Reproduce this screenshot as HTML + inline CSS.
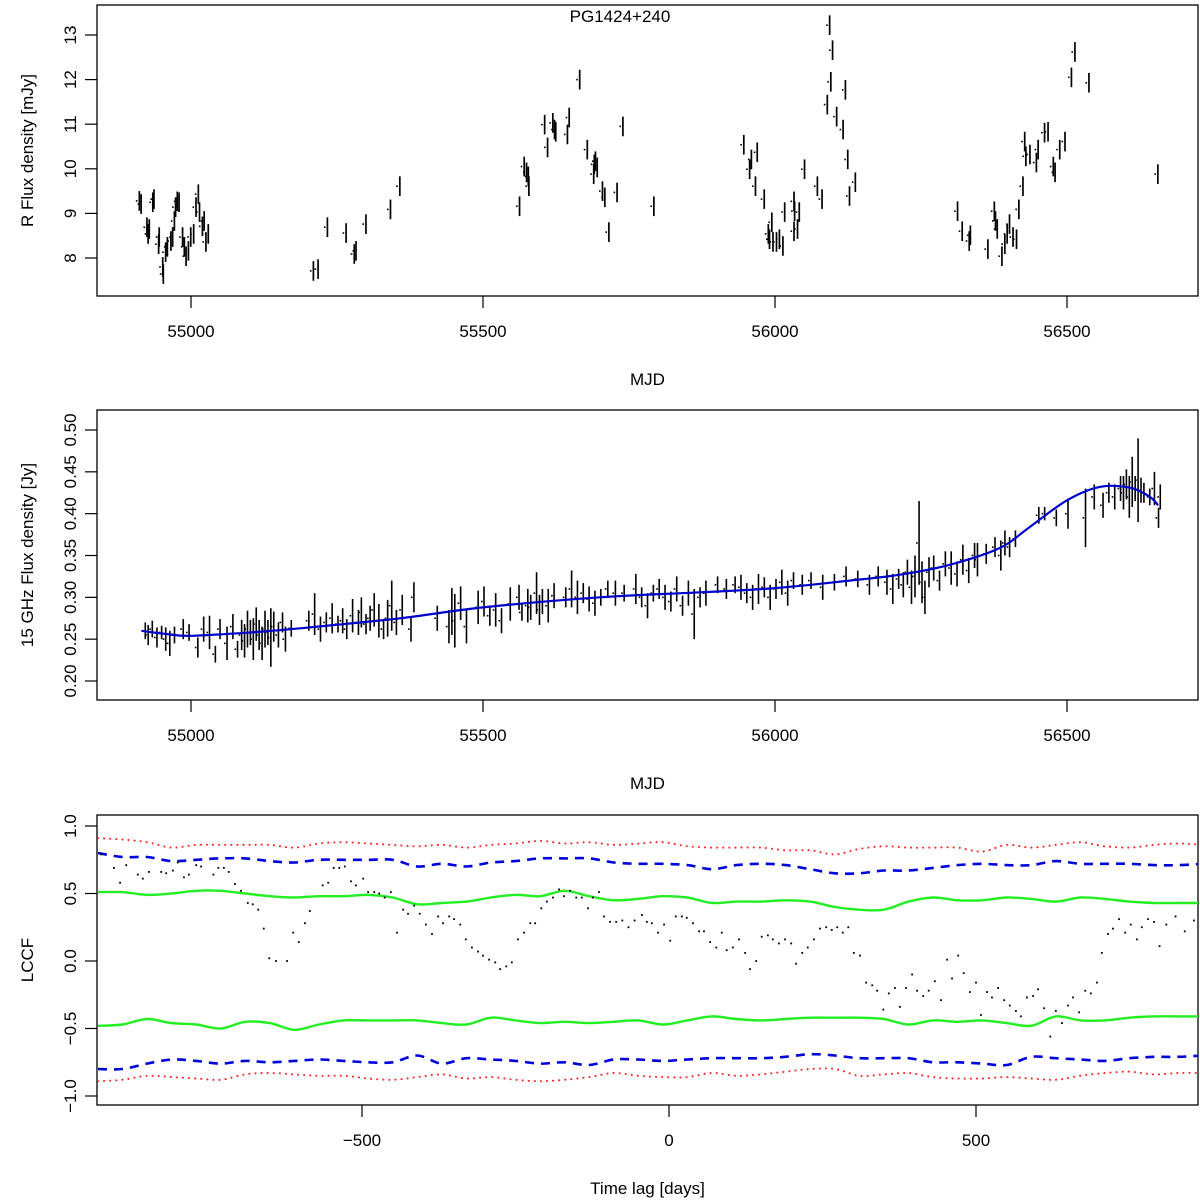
<!DOCTYPE html>
<html><head><meta charset="utf-8"><style>
html,body{margin:0;padding:0;background:#fff}
svg{display:block}
text{font-family:"Liberation Sans",Arial,sans-serif;font-size:17px;fill:#000}
</style></head><body>
<svg id="fig" width="1200" height="1200" viewBox="0 0 1200 1200" xmlns="http://www.w3.org/2000/svg">
<rect x="0" y="0" width="1200" height="1200" fill="#fff"/>
<g id="p1"></g>
<g id="p2"></g>
<g id="p3"></g>
</svg>
<script>
// ---------- Panel 1 data: R-band optical ----------
var optMjd = [54909,54912,54922,54924,54926,54932,54934,54943,54942,54949,54950,54954,54957,54963,54966,54969,54971,54974,54977,54983,54986,54989,54993,54997,55002,55006,55010,55012,55017,55020,55023,55027,55207,55215,55231,55263,55277,55280,55297,55339,55355,
55560,55568,55572,55575,55576,55603,55608,55617,55620,55622,55642,55645,55663,55676,55688,55690,55693,55687,55702,55706,55713,55727,55737,55790,
55944,55957,55954,55967,55964,55979,55992,55986,55988,55994,56000,56005,56011,56014,56030,56031,56039,56030,56036,56048,56070,56078,56087,56091,56096,56093,56103,56114,56118,56122,56135,56125,
56310,56318,56332,56330,56362,56373,56375,56378,56386,56391,56395,56399,56405,56411,56415,56422,56425,56427,56434,56445,56448,56459,56465,56474,56477,56485,56494,56505,56511,56535,56653];
var optFlux = [9.28,9.21,8.69,8.54,8.65,9.25,9.32,8.47,8.31,7.80,7.64,8.13,8.25,8.38,8.47,8.83,9.14,9.27,9.25,8.47,8.25,8.04,8.16,8.47,8.54,9.14,9.43,9.03,8.71,8.83,8.36,8.54,7.71,7.75,8.69,8.56,8.09,8.16,8.76,9.09,9.61,
9.16,10.05,9.92,9.83,9.61,10.99,10.48,11.03,10.88,10.83,10.77,11.15,12.00,10.43,10.10,10.17,10.03,9.88,9.50,9.36,8.58,9.47,10.95,9.16,
10.54,10.21,9.99,10.37,9.61,9.32,8.80,8.54,8.42,8.36,8.36,8.42,8.27,9.03,9.27,9.05,9.03,8.60,8.65,9.99,9.61,9.32,11.44,13.22,12.66,11.95,11.17,10.88,11.77,10.21,9.70,9.39,
9.05,8.60,8.51,8.38,8.20,9.05,8.83,8.65,8.04,8.31,8.54,8.76,8.47,8.42,9.09,9.61,10.61,10.28,10.32,10.14,10.43,10.81,10.83,10.05,9.92,10.43,10.61,12.05,12.62,11.93,9.88];
var optErr = 0.22;
var p1XTicks = [55000,55500,56000,56500];
var p1YTicks = [8,9,10,11,12,13];

// ---------- Panel 2 data: 15 GHz radio ----------
var radMjd = [54920,54925,54932,54940,54948,54955,54962,54970,54985,54995,55010,55020,55030,55040,55048,55060,55070,55078,55085,55090,55095,55100,55105,55110,55115,55120,55125,55130,55135,55140,55148,55155,55160,55170,55200,55210,55220,55230,55240,55250,55258,55265,55275,55285,55290,55298,55305,55312,55320,55328,55335,55342,55350,55360,55375,55380,55420,55440,55445,55450,55460,55470,55490,55500,55510,55520,55530,55545,55560,55565,55575,55580,55590,55595,55600,55610,55620,55640,55650,55660,55670,55680,55690,55700,55712,55725,55740,55760,55770,55780,55790,55800,55810,55820,55830,55840,55850,55860,55870,55880,55900,55915,55930,55940,55950,55960,55970,55980,55990,56000,56010,56020,56030,56045,56060,56080,56100,56120,56140,56160,56175,56190,56200,56210,56218,56225,56232,56238,56245,56250,56255,56262,56270,56280,56290,56300,56310,56320,56330,56340,56345,56360,56375,56385,56392,56400,56410,56450,56460,56480,56500,56530,56545,56560,56570,56580,56590,56595,56600,56605,56610,56615,56620,56625,56630,56640,56648,56655,56658];
var radFlux = [0.260,0.255,0.262,0.252,0.258,0.250,0.245,0.255,0.262,0.258,0.240,0.262,0.258,0.232,0.262,0.245,0.265,0.238,0.255,0.248,0.262,0.258,0.250,0.268,0.255,0.245,0.262,0.258,0.252,0.265,0.255,0.270,0.250,0.263,0.272,0.280,0.262,0.270,0.275,0.268,0.272,0.262,0.278,0.270,0.282,0.268,0.275,0.285,0.272,0.262,0.275,0.290,0.270,0.285,0.262,0.300,0.275,0.265,0.283,0.272,0.293,0.265,0.288,0.295,0.278,0.285,0.272,0.292,0.300,0.282,0.290,0.288,0.305,0.285,0.295,0.290,0.302,0.300,0.310,0.300,0.305,0.298,0.293,0.300,0.310,0.305,0.305,0.310,0.300,0.290,0.305,0.310,0.300,0.295,0.310,0.290,0.305,0.280,0.300,0.305,0.315,0.310,0.315,0.312,0.305,0.300,0.310,0.312,0.300,0.310,0.318,0.305,0.320,0.315,0.320,0.312,0.318,0.325,0.322,0.315,0.325,0.318,0.310,0.322,0.315,0.330,0.312,0.325,0.365,0.318,0.300,0.330,0.335,0.320,0.340,0.335,0.328,0.345,0.332,0.350,0.345,0.352,0.360,0.350,0.365,0.360,0.370,0.398,0.400,0.395,0.400,0.395,0.420,0.410,0.425,0.420,0.430,0.425,0.435,0.420,0.438,0.430,0.440,0.428,0.425,0.420,0.430,0.395,0.420];
var radErr = [0.010,0.012,0.010,0.012,0.008,0.014,0.015,0.010,0.012,0.010,0.012,0.015,0.020,0.010,0.012,0.020,0.015,0.010,0.018,0.020,0.022,0.015,0.025,0.020,0.018,0.020,0.022,0.015,0.035,0.018,0.015,0.012,0.015,0.010,0.012,0.025,0.015,0.012,0.018,0.010,0.015,0.012,0.020,0.015,0.018,0.012,0.015,0.020,0.020,0.012,0.022,0.030,0.015,0.018,0.015,0.018,0.015,0.020,0.028,0.032,0.020,0.020,0.020,0.018,0.012,0.020,0.015,0.020,0.015,0.010,0.020,0.015,0.025,0.018,0.015,0.020,0.015,0.012,0.022,0.020,0.012,0.015,0.015,0.010,0.010,0.015,0.010,0.018,0.012,0.015,0.010,0.012,0.015,0.012,0.015,0.012,0.015,0.030,0.012,0.015,0.010,0.012,0.010,0.015,0.012,0.015,0.018,0.012,0.015,0.012,0.015,0.015,0.010,0.012,0.010,0.015,0.010,0.012,0.010,0.012,0.012,0.015,0.018,0.012,0.015,0.015,0.020,0.025,0.050,0.025,0.020,0.018,0.015,0.012,0.015,0.020,0.015,0.018,0.015,0.015,0.020,0.012,0.012,0.018,0.015,0.012,0.010,0.010,0.008,0.010,0.018,0.035,0.015,0.015,0.012,0.015,0.015,0.020,0.018,0.025,0.030,0.015,0.050,0.015,0.012,0.010,0.020,0.012,0.015];
var fitMjd = [54915,54960,55000,55101,55187,55358,55500,55700,55872,56000,56128,56214,56300,56385,56436,56500,56556,56608,56642,56656];
var fitFlux = [0.260,0.256,0.254,0.258,0.263,0.275,0.288,0.300,0.306,0.311,0.320,0.327,0.339,0.359,0.384,0.416,0.432,0.431,0.420,0.410];
var p2XTicks = [55000,55500,56000,56500];
var p2YTicks = [0.20,0.25,0.30,0.35,0.40,0.45,0.50];
var p2YLabels = ["0.20","0.25","0.30","0.35","0.40","0.45","0.50"];

// ---------- Panel 3 data: LCCF ----------
var lccfLag = [-925,-904,-894,-884,-865,-857,-847,-827,-819,-808,-800,-790,-782,-770,-762,-742,-734,-725,-717,-707,-697,-686,-678,-669,-660,-651,-640,-622,-612,-603,-593,-585,-564,-555,-546,-537,-528,-518,-510,-498,-490,-480,-472,-463,-453,-443,-433,-425,-415,-406,-396,-386,-376,-368,-358,-350,-340,-331,-321,-311,-303,-293,-283,-275,-265,-256,-246,-236,-226,-218,-208,-199,-189,-179,-171,-161,-151,-142,-132,-124,-114,-106,-96,-86,-76,-66,-56,-44,-36,-28,-18,-8,2,11,21,29,39,49,57,67,77,86,94,104,114,124,132,142,151,161,169,179,189,199,207,217,226,236,246,256,265,274,283,292,301,311,321,331,339,349,358,368,376,386,396,404,414,423,433,443,453,461,471,480,490,500,508,518,526,536,546,555,565,573,583,593,601,611,621,630,640,650,658,668,678,687,697,705,715,723,733,743,752,762,770,780,790,799,810,825,840,855];
var lccfVal = [0.79,0.69,0.58,0.71,0.64,0.61,0.66,0.66,0.65,0.67,0.73,0.62,0.64,0.71,0.70,0.64,0.69,0.69,0.66,0.57,0.52,0.43,0.42,0.38,0.24,0.02,0.00,0.00,0.21,0.14,0.28,0.37,0.56,0.58,0.69,0.69,0.70,0.59,0.56,0.61,0.51,0.51,0.50,0.47,0.51,0.21,0.38,0.35,0.41,0.35,0.27,0.20,0.33,0.28,0.33,0.31,0.27,0.16,0.10,0.07,0.04,0.01,-0.01,-0.06,-0.04,-0.01,0.16,0.21,0.28,0.28,0.39,0.44,0.47,0.53,0.48,0.52,0.47,0.47,0.39,0.47,0.51,0.33,0.29,0.29,0.30,0.25,0.30,0.34,0.29,0.28,0.21,0.27,0.15,0.33,0.33,0.32,0.28,0.22,0.22,0.14,0.10,0.21,0.08,0.10,0.16,0.06,-0.06,0.00,0.18,0.19,0.16,0.13,0.16,0.13,-0.02,0.06,0.10,0.16,0.24,0.25,0.23,0.25,0.21,0.25,0.06,0.04,-0.16,-0.18,-0.22,-0.36,-0.24,-0.20,-0.34,-0.20,-0.10,-0.22,-0.26,-0.22,-0.15,-0.29,0.01,-0.13,0.04,-0.09,-0.23,-0.16,-0.40,-0.23,-0.27,-0.20,-0.29,-0.33,-0.37,-0.41,-0.27,-0.26,-0.21,-0.35,-0.56,-0.37,-0.46,-0.33,-0.27,-0.38,-0.22,-0.24,-0.16,0.06,0.20,0.24,0.31,0.21,0.27,0.16,0.25,0.31,0.29,0.11,0.27,0.33,0.22,0.30];
var bandLag = [-930,-890,-850,-810,-770,-730,-690,-650,-610,-570,-530,-490,-450,-410,-370,-330,-290,-250,-210,-170,-130,-90,-50,-10,30,70,110,150,190,230,270,310,350,390,430,470,510,550,590,630,670,710,750,790,830,870];
var greenUpper = [0.51,0.51,0.49,0.50,0.52,0.52,0.50,0.48,0.47,0.48,0.48,0.49,0.47,0.42,0.43,0.44,0.47,0.49,0.48,0.52,0.48,0.45,0.46,0.48,0.47,0.43,0.44,0.44,0.45,0.44,0.40,0.38,0.38,0.44,0.47,0.45,0.45,0.47,0.46,0.44,0.47,0.46,0.44,0.43,0.43,0.43];
var greenLower = [-0.48,-0.47,-0.43,-0.46,-0.47,-0.50,-0.45,-0.46,-0.51,-0.47,-0.44,-0.44,-0.44,-0.44,-0.46,-0.47,-0.42,-0.44,-0.46,-0.45,-0.46,-0.45,-0.44,-0.47,-0.44,-0.41,-0.43,-0.44,-0.43,-0.42,-0.42,-0.42,-0.43,-0.47,-0.44,-0.45,-0.44,-0.46,-0.48,-0.41,-0.44,-0.44,-0.42,-0.41,-0.41,-0.41];
var blueUpper = [0.80,0.77,0.77,0.74,0.75,0.76,0.76,0.74,0.73,0.75,0.75,0.75,0.75,0.70,0.72,0.70,0.73,0.74,0.76,0.76,0.76,0.73,0.72,0.72,0.71,0.68,0.71,0.72,0.71,0.68,0.65,0.65,0.67,0.67,0.69,0.71,0.72,0.71,0.71,0.74,0.72,0.72,0.72,0.71,0.71,0.72];
var blueLower = [-0.80,-0.80,-0.76,-0.73,-0.74,-0.76,-0.74,-0.75,-0.74,-0.73,-0.74,-0.75,-0.75,-0.70,-0.76,-0.72,-0.73,-0.74,-0.76,-0.75,-0.77,-0.73,-0.73,-0.74,-0.73,-0.72,-0.72,-0.72,-0.71,-0.69,-0.70,-0.72,-0.72,-0.72,-0.75,-0.75,-0.76,-0.77,-0.71,-0.72,-0.73,-0.74,-0.72,-0.71,-0.71,-0.70];
var redUpper = [0.91,0.90,0.88,0.84,0.86,0.86,0.86,0.86,0.84,0.87,0.88,0.87,0.86,0.85,0.86,0.84,0.86,0.87,0.89,0.87,0.88,0.86,0.87,0.88,0.85,0.84,0.84,0.84,0.82,0.82,0.79,0.83,0.85,0.84,0.84,0.84,0.81,0.86,0.84,0.86,0.88,0.85,0.84,0.86,0.87,0.86];
var redLower = [-0.89,-0.88,-0.85,-0.86,-0.87,-0.88,-0.84,-0.83,-0.84,-0.85,-0.85,-0.87,-0.88,-0.86,-0.84,-0.87,-0.86,-0.88,-0.89,-0.88,-0.86,-0.83,-0.85,-0.86,-0.86,-0.83,-0.85,-0.84,-0.82,-0.80,-0.80,-0.85,-0.84,-0.83,-0.86,-0.87,-0.87,-0.86,-0.87,-0.88,-0.85,-0.83,-0.82,-0.84,-0.83,-0.83];
var p3XTicks = [-500,0,500];
var p3XLabels = ["\u2212500","0","500"];
var p3YTicks = [-1,-0.5,0,0.5,1];
var p3YLabels = ["\u22121.0","\u22120.5","0.0","0.5","1.0"];

var NS = "http://www.w3.org/2000/svg";
function mk(parent, tag, attrs, txt){
  var e = document.createElementNS(NS, tag);
  for (var k in attrs) e.setAttribute(k, attrs[k]);
  if (txt !== undefined) e.textContent = txt;
  parent.appendChild(e);
  return e;
}
function lin(d0,d1,r0,r1){ return function(v){ return r0 + (v-d0)*(r1-r0)/(d1-d0); }; }
function smoothPath(pts){
  var d = 'M'+pts[0][0].toFixed(1)+','+pts[0][1].toFixed(1);
  for (var i=0;i<pts.length-1;i++){
    var p0 = pts[i-1]||pts[i], p1 = pts[i], p2 = pts[i+1], p3 = pts[i+2]||p2;
    var c1x = p1[0]+(p2[0]-p0[0])/6, c1y = p1[1]+(p2[1]-p0[1])/6;
    var c2x = p2[0]-(p3[0]-p1[0])/6, c2y = p2[1]-(p3[1]-p1[1])/6;
    d += ' C'+c1x.toFixed(1)+','+c1y.toFixed(1)+' '+c2x.toFixed(1)+','+c2y.toFixed(1)+' '+p2[0].toFixed(1)+','+p2[1].toFixed(1);
  }
  return d;
}

var L = 97, R = 1198;
var mjdX = lin(55000,56500,191,1067);

function frame(g, top, bot, xTicks, xLabels, xFn, yTicks, yLabels, yFn, xTitle, yTitle, pfx){
  var box = mk(g,'rect',{x:L,y:top,width:R-L,height:bot-top,fill:'none',stroke:'#000','stroke-width':1.3});
  
  
  var xa = mk(g,'g',{});
  
  
  xTicks.forEach(function(t,i){
    var x = xFn(t);
    mk(xa,'line',{x1:x,x2:x,y1:bot,y2:bot+12,stroke:'#000','stroke-width':1.2});
    var tl = mk(xa,'text',{x:x,y:bot+41,'text-anchor':'middle'}, xLabels[i]);
    
    
  });
  var ya = mk(g,'g',{});
  
  
  yTicks.forEach(function(t,i){
    var y = yFn(t);
    mk(ya,'line',{x1:L-12,x2:L,y1:y,y2:y,stroke:'#000','stroke-width':1.2});
    var tl = mk(ya,'text',{x:0,y:0,'text-anchor':'middle',transform:'translate(76,'+y+') rotate(-90)'}, yLabels[i]);
    
    
  });
  var xt = mk(g,'text',{x:(L+R)/2,y:bot+89,'text-anchor':'middle'}, xTitle);
  
  
  var yt = mk(g,'text',{x:0,y:0,'text-anchor':'middle',transform:'translate(33,'+((top+bot)/2)+') rotate(-90)'}, yTitle);
  
  
}

// ---------- Panel 1 ----------
(function(){
  var g = document.getElementById('p1');
  var yFn = lin(8,13,258,35);
  frame(g,5,296,p1XTicks,p1XTicks.map(String),mjdX,p1YTicks,p1YTicks.map(String),yFn,'MJD','R Flux density [mJy]','optical');
  var t = mk(g,'text',{x:620,y:22,'text-anchor':'middle'},'PG1424+240');
  
  
  var pts = mk(g,'g',{});
  
  
  optMjd.forEach(function(m,i){
    var x = mjdX(m), y = yFn(optFlux[i]);
    var e = mk(pts,'line',{x1:x+1.5,x2:x+1.5,y1:yFn(optFlux[i]+optErr),y2:yFn(optFlux[i]-optErr),stroke:'#000','stroke-width':1.7});
    
    
    var d = mk(pts,'rect',{x:x-2,y:y-0.8,width:1.6,height:1.6,fill:'#000'});
    
    
  });
})();

// ---------- Panel 2 ----------
(function(){
  var g = document.getElementById('p2');
  var yFn = lin(0.20,0.50,681,430);
  frame(g,410,700,p2XTicks,p2XTicks.map(String),mjdX,p2YTicks,p2YLabels,yFn,'MJD','15 GHz Flux density [Jy]','radio');
  var pts = mk(g,'g',{});
  
  
  radMjd.forEach(function(m,i){
    var x = mjdX(m), y = yFn(radFlux[i]);
    var e = mk(pts,'line',{x1:x+1,x2:x+1,y1:yFn(radFlux[i]+radErr[i]),y2:yFn(radFlux[i]-radErr[i]),stroke:'#000','stroke-width':1.6});
    
    
    var d = mk(pts,'rect',{x:x-2,y:y-0.8,width:1.6,height:1.6,fill:'#000'});
    
    
  });
  var fp = fitMjd.map(function(m,i){ return [mjdX(m), yFn(fitFlux[i])]; });
  var fit = mk(g,'path',{d:smoothPath(fp),fill:'none',stroke:'#0000cc','stroke-width':2.2,'stroke-linejoin':'round'});
  
  
})();

// ---------- Panel 3 ----------
(function(){
  var g = document.getElementById('p3');
  var xFn = lin(-500,500,362,976);
  var yFn = lin(-1,1,1096,826);
  frame(g,815,1105,p3XTicks,p3XLabels,xFn,p3YTicks,p3YLabels,yFn,'Time lag [days]','LCCF','lccf');
  var cp = mk(g,'clipPath',{id:'c3'});
  mk(cp,'rect',{x:L,y:815,width:R-L,height:290});
  function band(vals, color, w, dash, name){
    var pts = bandLag.map(function(l,i){ return [xFn(l), yFn(vals[i])]; });
    var attrs = {d:smoothPath(pts),fill:'none',stroke:color,'stroke-width':w,'stroke-linejoin':'round','clip-path':'url(#c3)'};
    if (dash) attrs['stroke-dasharray'] = dash;
    if (name.indexOf('red')===0) attrs['stroke-linecap'] = 'round';
    var p = mk(g,'path',attrs);
    
    
  }
  band(redUpper,'#ff2020',2,'0.1 6','red-upper-band');
  band(redLower,'#ff2020',2,'0.1 6','red-lower-band');
  band(blueUpper,'#0000dd',2.6,'9 7','blue-upper-band');
  band(blueLower,'#0000dd',2.6,'9 7','blue-lower-band');
  band(greenUpper,'#22ee22',2.4,null,'green-upper-band');
  band(greenLower,'#22ee22',2.4,null,'green-lower-band');
  var dots = mk(g,'g',{'clip-path':'url(#c3)'});
  
  
  lccfLag.forEach(function(l,i){
    var d = mk(dots,'rect',{x:xFn(l)-0.9,y:yFn(lccfVal[i])-0.9,width:1.8,height:1.8,fill:'#000'});
    
    
  });
})();
</script>
</body></html>
